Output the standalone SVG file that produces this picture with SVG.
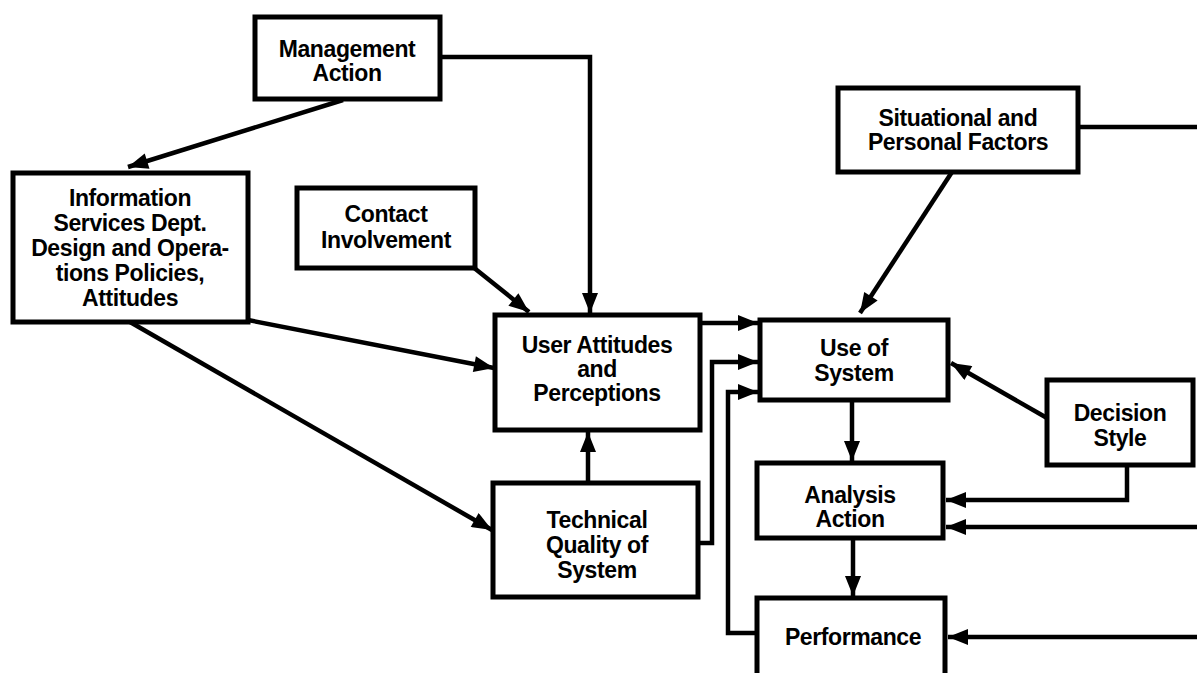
<svg xmlns="http://www.w3.org/2000/svg" width="1197" height="673" viewBox="0 0 1197 673">
  <style>
    .box { fill: #fff; stroke: #000; stroke-width: 5; }
    .lbl { font-family: "Liberation Sans", Arial, sans-serif; font-weight: bold; font-size: 23px; fill: #000; text-anchor: middle; letter-spacing: -0.4px; }
    .wire { fill: none; stroke: #000; stroke-width: 4.5; stroke-linejoin: miter; }
    .arr { marker-end: url(#head); }
  </style>
  <defs>
    <marker id="head" viewBox="0 0 20 16" refX="20" refY="8" markerWidth="21" markerHeight="16" markerUnits="userSpaceOnUse" orient="auto">
      <path d="M0,0 L20,8 L0,16 z" fill="#000"/>
    </marker>
  </defs>
  <rect width="1197" height="673" fill="#fff"/>

  <g id="management-action">
    <rect class="box" x="255" y="17" width="185" height="82"/>
    <text class="lbl" x="347" y="57">Management</text>
    <text class="lbl" x="347" y="81">Action</text>
  </g>

  <g id="info-services">
    <rect class="box" x="13" y="173" width="235" height="149"/>
    <text class="lbl" x="130" y="206">Information</text>
    <text class="lbl" x="130" y="231">Services Dept.</text>
    <text class="lbl" x="130" y="256">Design and Opera-</text>
    <text class="lbl" x="130" y="281">tions Policies,</text>
    <text class="lbl" x="130" y="306">Attitudes</text>
  </g>

  <g id="contact-involvement">
    <rect class="box" x="297" y="188" width="178" height="80"/>
    <text class="lbl" x="386" y="222">Contact</text>
    <text class="lbl" x="386" y="248">Involvement</text>
  </g>

  <g id="user-attitudes">
    <rect class="box" x="495" y="315" width="205" height="115"/>
    <text class="lbl" x="597" y="353">User Attitudes</text>
    <text class="lbl" x="597" y="377">and</text>
    <text class="lbl" x="597" y="401">Perceptions</text>
  </g>

  <g id="technical-quality">
    <rect class="box" x="493" y="483" width="205" height="114"/>
    <text class="lbl" x="597" y="528">Technical</text>
    <text class="lbl" x="597" y="553">Quality of</text>
    <text class="lbl" x="597" y="578">System</text>
  </g>

  <g id="use-of-system">
    <rect class="box" x="760" y="320" width="188" height="80"/>
    <text class="lbl" x="854" y="356">Use of</text>
    <text class="lbl" x="854" y="381">System</text>
  </g>

  <g id="analysis-action">
    <rect class="box" x="757" y="463" width="186" height="75"/>
    <text class="lbl" x="850" y="503">Analysis</text>
    <text class="lbl" x="850" y="527">Action</text>
  </g>

  <g id="performance">
    <rect class="box" x="757" y="598" width="188" height="90"/>
    <text class="lbl" x="853" y="645">Performance</text>
  </g>

  <g id="situational-factors">
    <rect class="box" x="838" y="88" width="240" height="84"/>
    <text class="lbl" x="958" y="126">Situational and</text>
    <text class="lbl" x="958" y="150">Personal Factors</text>
  </g>

  <g id="decision-style">
    <rect class="box" x="1047" y="380" width="146" height="85"/>
    <text class="lbl" x="1120" y="421">Decision</text>
    <text class="lbl" x="1120" y="446">Style</text>
  </g>

  <g id="connectors">
    <path class="wire arr" d="M343,100 L128,167"/>
    <path class="wire arr" d="M440,57 H590 V313"/>
    <path class="wire arr" d="M473,267 L529,312"/>
    <path class="wire arr" d="M248,320 L494,368"/>
    <path class="wire arr" d="M130,322 L492,530"/>
    <path class="wire arr" d="M588,483 V432"/>
    <path class="wire arr" d="M700,323 H758"/>
    <path class="wire arr" d="M698,543 H712 V362 H758"/>
    <path class="wire arr" d="M757,633 H728 V392 H758"/>
    <path class="wire arr" d="M852,400 V461"/>
    <path class="wire arr" d="M853,538 V596"/>
    <path class="wire arr" d="M952,172 L860,313"/>
    <path class="wire" d="M1078,127 H1197"/>
    <path class="wire arr" d="M1047,418 L951,363"/>
    <path class="wire arr" d="M1127,465 V500 H946"/>
    <path class="wire arr" d="M1197,527 H946"/>
    <path class="wire arr" d="M1197,637 H948"/>
  </g>
</svg>
